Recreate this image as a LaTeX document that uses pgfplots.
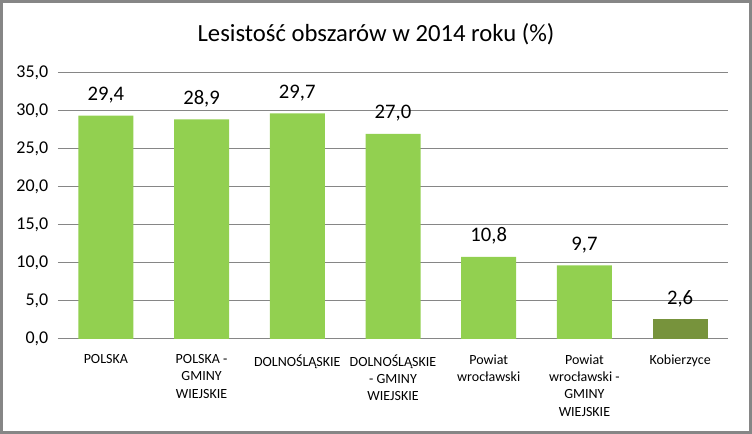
\documentclass[border=0pt]{standalone}
\usepackage{pgfplots}
\pgfplotsset{compat=1.18}
\usepackage{fontspec}
\setmainfont{Carlito}
\definecolor{barg}{HTML}{92D050}
\definecolor{bardk}{HTML}{77933C}
\definecolor{gridc}{HTML}{868686}
\begin{document}
\begin{tikzpicture}
\useasboundingbox (0,0) rectangle (564pt,325.5pt);
\draw[gridc, line width=2pt] (1pt,1pt) rectangle (563pt,324.5pt);
\node[anchor=base, font=\fontsize{18.5}{22}\selectfont] at (282pt,294pt) {Lesistość obszarów w 2014 roku (\%)};
\begin{axis}[
    at={(43.5pt,71.25pt)}, anchor=south west,
    scale only axis,
    width=502.5pt, height=199.5pt,
    xmin=-0.5, xmax=6.5,
    ymin=0, ymax=35,
    ytick={0,5,...,35},
    xtick={0,...,6},
    xticklabels={POLSKA, {POLSKA -\\GMINY\\WIEJSKIE}, DOLNOŚLĄSKIE, {DOLNOŚLĄSKIE\\- GMINY\\WIEJSKIE}, {Powiat\\wrocławski}, {Powiat\\wrocławski -\\GMINY\\WIEJSKIE}, Kobierzyce},
    xticklabel style={align=center, font=\fontsize{10.5}{13.1}\selectfont, yshift=-8pt},
    yticklabel style={font=\fontsize{13.5}{16}\selectfont, xshift=-3.75pt},
    /pgf/number format/.cd, fixed, fixed zerofill, precision=1, use comma, assume math mode=true,
    /pgfplots/.cd,
    major tick length=0pt,
    axis line style={draw=none},
    ymajorgrids,
    grid style={gridc, line width=0.75pt},
    ybar, bar width=41.25pt, bar shift=0pt,
    nodes near coords,
    every node near coord/.append style={anchor=base, yshift=11.25pt, font=\fontsize{15.5}{18}\selectfont, text=black},
    clip=false,
]
\addplot[fill=barg, draw=none] coordinates {(0,29.4) (1,28.9) (2,29.7) (3,27.0) (4,10.8) (5,9.7)};
\addplot[fill=bardk, draw=none] coordinates {(6,2.6)};
\end{axis}
\end{tikzpicture}
\end{document}
